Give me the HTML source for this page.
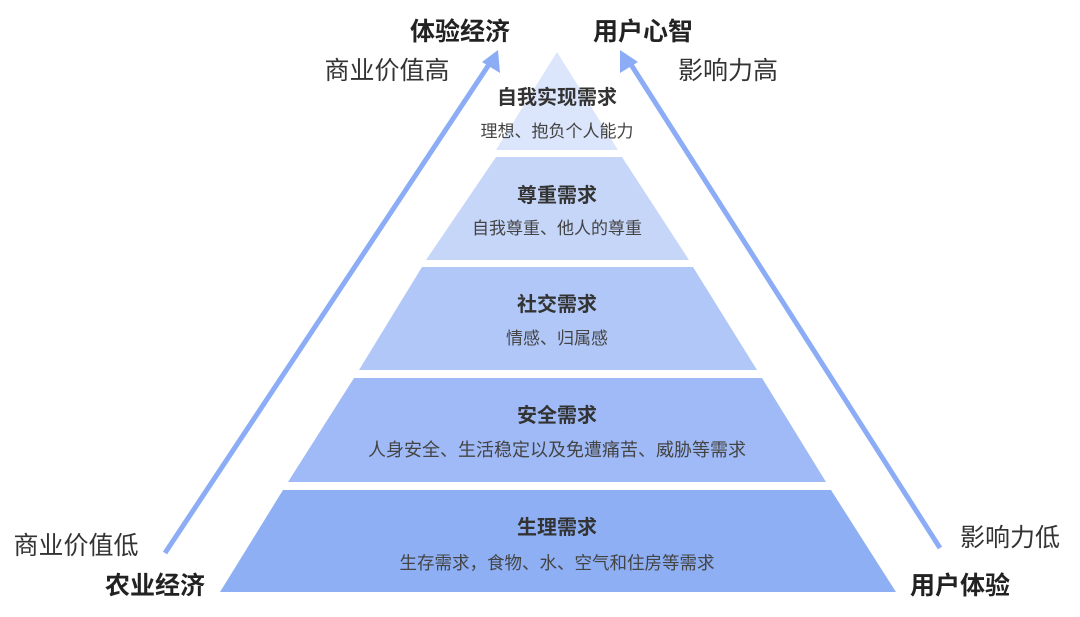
<!DOCTYPE html>
<html><head><meta charset="utf-8"><style>
body{margin:0;background:#fff;}
svg text{font-family:"Liberation Sans","Noto Sans CJK SC",sans-serif;}
</style></head><body>
<svg width="1080" height="612" viewBox="0 0 1080 612" xmlns="http://www.w3.org/2000/svg">
<rect width="1080" height="612" fill="#fff"/>
<polygon points="557,52 618,150 496,150" fill="#dbe5fb"/>
<polygon points="496,157 622,157 689,260 426,260" fill="#c6d6f9"/>
<polygon points="422,267 693,267 757,370 359,370" fill="#b1c7f8"/>
<polygon points="354,378 762,378 826,482 288,482" fill="#9fbaf6"/>
<polygon points="283,490 831,490 896,592 220,592" fill="#8eaff4"/>
<g stroke="#8cadf5" stroke-width="5" fill="none">
<line x1="165" y1="553" x2="490" y2="63"/>
<line x1="940" y1="548" x2="630" y2="63"/>
</g>
<polygon points="498,50 500,73 482,62" fill="#8cadf5"/>
<polygon points="620,50 638,62 620,73" fill="#8cadf5"/>
<g text-anchor="middle" fill="#222">
<text x="460" y="40" font-size="25" font-weight="bold">体验经济</text>
<text x="643" y="40" font-size="25" font-weight="bold">用户心智</text>
<text x="387" y="79" font-size="25" fill="#333">商业价值高</text>
<text x="728" y="79" font-size="25" fill="#333">影响力高</text>
<text x="76" y="554" font-size="25" fill="#333">商业价值低</text>
<text x="1010" y="546" font-size="25" fill="#333">影响力低</text>
<text x="155" y="594" font-size="25" font-weight="bold">农业经济</text>
<text x="960" y="594" font-size="25" font-weight="bold">用户体验</text>
</g>
<g text-anchor="middle" fill="#333">
<text x="557" y="104" font-size="20" font-weight="bold">自我实现需求</text>
<text x="557" y="137" font-size="17" fill="#444">理想、抱负个人能力</text>
<text x="557" y="202" font-size="20" font-weight="bold">尊重需求</text>
<text x="557" y="234" font-size="17" fill="#444">自我尊重、他人的尊重</text>
<text x="557" y="311" font-size="20" font-weight="bold">社交需求</text>
<text x="557" y="344" font-size="17" fill="#444">情感、归属感</text>
<text x="557" y="422" font-size="20" font-weight="bold">安全需求</text>
<text x="557" y="456" font-size="18" fill="#444">人身安全、生活稳定以及免遭痛苦、威胁等需求</text>
<text x="557" y="534" font-size="20" font-weight="bold">生理需求</text>
<text x="557" y="569" font-size="17.5" fill="#444">生存需求，食物、水、空气和住房等需求</text>
</g>
</svg>
</body></html>
